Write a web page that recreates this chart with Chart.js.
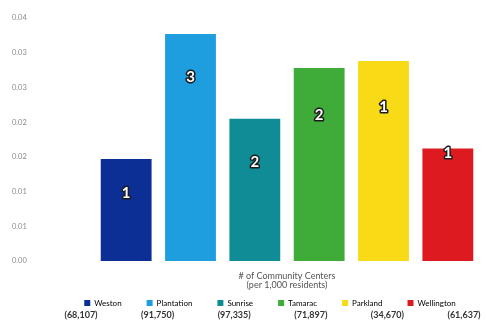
<!DOCTYPE html>
<html>
<head>
<meta charset="utf-8">
<script src="https://cdn.jsdelivr.net/npm/chart.js@4/dist/chart.umd.min.js"></script>
<style>
  html, body { margin: 0; padding: 0; background: #fff; }
  #wrap { width: 487px; height: 325px; position: relative; }
</style>
</head>
<body>
<div id="wrap"><canvas id="chart"></canvas></div>
<script>
// cities, centres per 1,000 residents, raw counts and populations
const cities = ['Weston', 'Plantation', 'Sunrise', 'Tamarac', 'Parkland', 'Wellington']
const perThousand = [0.0147, 0.0327, 0.0205, 0.0278, 0.0288, 0.0162]
const centerCounts = [1, 3, 2, 2, 1, 1]
const populations = ['(68,107)', '(91,750)', '(97,335)', '(71,897)', '(34,670)', '(61,637)']
const yTickLabels = ['0.00', '0.01', '0.01', '0.02', '0.02', '0.03', '0.03', '0.04']
const barColors = ['#0c2f96', '#1e9ddf', '#0f8c95', '#3fab38', '#f8da16', '#dd1a1f']

const FONT = "Lato, 'Open Sans', sans-serif"

// count drawn inside each bar, white with a dark outline
const countLabels = {
  id: 'countLabels',
  afterDatasetsDraw(chart) {
    const drop = [34, 43, 43, 47, 46, 5]
    const ctx = chart.ctx
    const bars = chart.getDatasetMeta(0).data
    ctx.save()
    ctx.font = 'bold 15px ' + FONT
    ctx.textAlign = 'center'
    ctx.textBaseline = 'middle'
    ctx.lineJoin = 'round'
    bars.forEach((bar, i) => {
      const y = bar.y + drop[i]
      ctx.lineWidth = 3
      ctx.strokeStyle = '#1b1b1b'
      ctx.strokeText(String(centerCounts[i]), bar.x, y)
      ctx.fillStyle = '#ffffff'
      ctx.fillText(String(centerCounts[i]), bar.x, y)
    })
    ctx.restore()
  },
}

// population row under the legend
const populationRow = {
  id: 'populationRow',
  afterDraw(chart) {
    const ctx = chart.ctx
    ctx.save()
    ctx.font = 'bold 9px ' + FONT
    ctx.fillStyle = '#333'
    ctx.textAlign = 'center'
    ctx.textBaseline = 'middle'
    populations.forEach((p, i) => {
      ctx.fillText(p, 81 + i * 76.6, 315)
    })
    ctx.restore()
  },
}

// nudge the legend a little right, like in the original
const legendShift = {
  id: 'legendShift',
  afterLayout(chart) {
    const lg = chart.legend
    if (!lg) return
    lg.left += 24
    lg.right += 24
  },
}

new Chart(document.getElementById('chart'), {
  type: 'bar',
  data: {
    labels: cities,
    datasets: [
      {
        data: perThousand,
        backgroundColor: barColors,
        borderWidth: 0,
        categoryPercentage: 0.79,
        barPercentage: 1,
      },
    ],
  },
  plugins: [countLabels, populationRow, legendShift],
  options: {
    responsive: true,
    maintainAspectRatio: false,
    animation: false,
    layout: { padding: { left: 12, right: 7, top: 18, bottom: 8 } },
    plugins: {
      tooltip: { enabled: false },
      legend: {
        position: 'bottom',
        labels: {
          boxWidth: 6,
          boxHeight: 6,
          padding: 25,
          color: '#666',
          font: { family: FONT, size: 8 },
          generateLabels: () =>
            cities.map((c, i) => ({
              text: c,
              fillStyle: barColors[i],
              strokeStyle: barColors[i],
              lineWidth: 0,
              index: i,
            })),
        },
      },
    },
    scales: {
      x: {
        grid: { display: false, drawTicks: false },
        border: { display: false },
        ticks: { display: false },
        title: {
          display: true,
          text: ['# of Community Centers', '(per 1,000 residents)'],
          color: '#555',
          font: { family: FONT, size: 9, lineHeight: 1 },
          padding: { top: 10.5, bottom: -15.5 },
        },
      },
      y: {
        min: 0,
        max: 0.035,
        grid: { display: false },
        border: { display: false },
        ticks: {
          stepSize: 0.005,
          crossAlign: 'far',
          padding: 0,
          color: '#8a8a8a',
          font: { family: FONT, size: 7.5 },
          callback: (v, i) => yTickLabels[i],
        },
        afterFit: (axis) => {
          axis.width = 82
        },
      },
    },
  },
})
</script>
</body>
</html>
